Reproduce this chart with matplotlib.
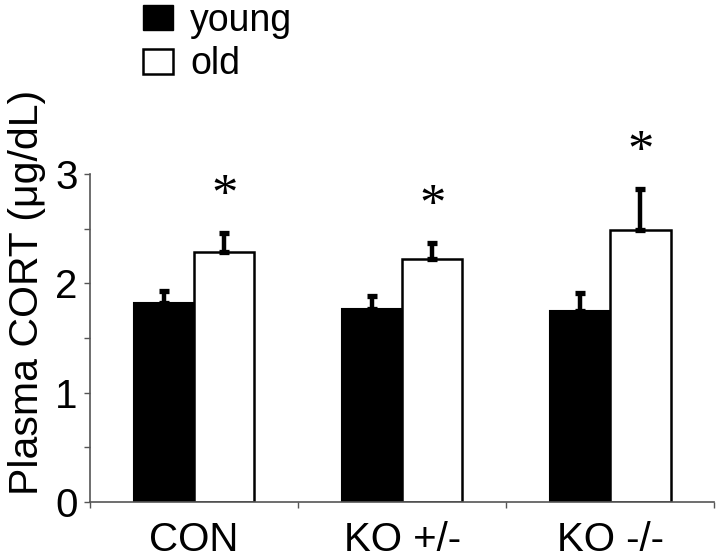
import numpy as np
import matplotlib
matplotlib.use("Agg")
import matplotlib.pyplot as plt
from matplotlib.patches import Patch

plt.rcParams["font.family"] = ["Liberation Sans", "DejaVu Sans"]

# Values
groups = ["CON", "KO +/-", "KO -/-"]
young = [1.82, 1.76, 1.75]
young_err = [0.11, 0.12, 0.16]
old = [2.29, 2.22, 2.49]
old_err = [0.17, 0.15, 0.37]
significant = [True, True, True]

x = np.arange(len(groups))
w = 0.29

fig = plt.figure(figsize=(7.2, 5.58), dpi=100)
ax = fig.add_axes([0.125, 0.1004, 0.867, 0.588])

ax.bar(x - w, young, width=w, align="edge", color="black", edgecolor="black", linewidth=1.5)
ax.bar(x, old, width=w, align="edge", color="white", edgecolor="black", linewidth=1.8)

err_kw = dict(fmt="none", ecolor="black", elinewidth=3.2, capsize=3.4, capthick=3.8)
ax.errorbar(x - w / 2, young, yerr=[np.zeros(len(young)), young_err], **err_kw)
ax.errorbar(x + w / 2, old, yerr=[np.zeros(len(old)), old_err], **err_kw)

# significance stars above the old bars
for xi, v, e, s in zip(x, old, old_err, significant):
    if s:
        ax.text(xi + w / 2, v + e + 0.33, "*", ha="center", va="center",
                fontsize=38, family="Liberation Serif")

ax.set_xlim(-0.5, len(groups) - 0.5)
ax.set_ylim(0, 3)
ax.set_yticks([0, 1, 2, 3])
ax.set_yticks([0.5, 1.5, 2.5], minor=True)
ax.set_xticks(x)
ax.set_xticklabels(groups, fontsize=29)
ax.set_xticks(np.arange(-0.5, len(groups)), minor=True)
ax.tick_params(axis="x", which="major", length=0, pad=14)
ax.tick_params(axis="x", which="minor", length=4, width=1, color="#555555", direction="out")
ax.tick_params(axis="y", which="both", length=4, width=1, color="#555555", direction="out",
               labelsize=29, pad=5)

for side in ["top", "right"]:
    ax.spines[side].set_visible(False)
for side in ["left", "bottom"]:
    ax.spines[side].set_color("#555555")
    ax.spines[side].set_linewidth(1.2)

ax.set_ylabel("Plasma CORT (μg/dL)", fontsize=29.5)
ax.yaxis.set_label_coords(-0.071, 0.64)

handles = [Patch(facecolor="black", edgecolor="black", label="young"),
           Patch(facecolor="white", edgecolor="black", linewidth=1.8, label="old")]
fig.legend(handles=handles, loc="upper left", bbox_to_anchor=(0.178, 1.022),
           frameon=False, fontsize=27, handlelength=0.8, handleheight=0.65,
           handletextpad=0.45, labelspacing=0.2, borderaxespad=0)

fig.savefig("out.png", dpi=100)
